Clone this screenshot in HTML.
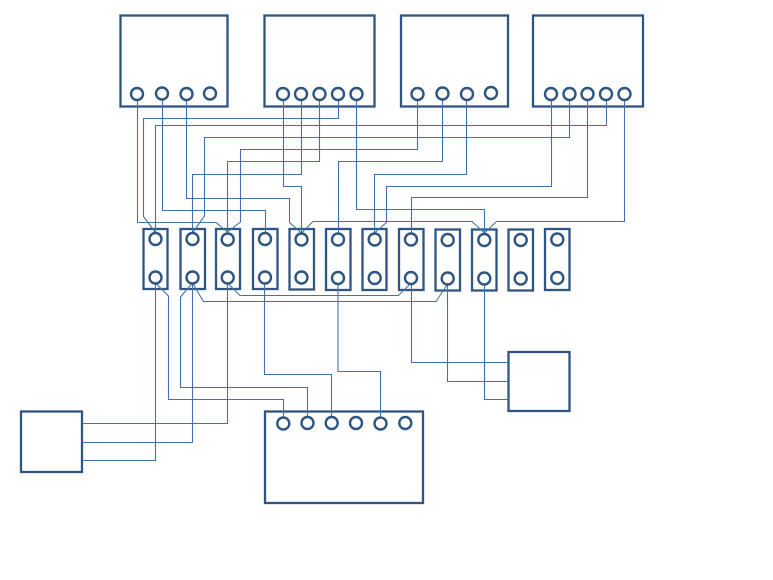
<!DOCTYPE html>
<html>
<head>
<meta charset="utf-8">
<style>
html,body{margin:0;padding:0;background:#fff;width:773px;height:580px;overflow:hidden}
svg{display:block}
.b{fill:#fff;stroke:#2f5583;stroke-width:2.3}
.c{fill:#fff;stroke:#2f5583;stroke-width:2.4}
.w{fill:none;stroke:#4472a8;stroke-width:1.1}
</style>
</head>
<body>
<svg width="773" height="580" viewBox="0 0 773 580" xmlns="http://www.w3.org/2000/svg">
<g>
<rect class="b" x="120.5" y="15.5" width="107" height="91"/>
<rect class="b" x="264.5" y="15.5" width="110" height="91"/>
<rect class="b" x="401" y="15.5" width="107" height="91"/>
<rect class="b" x="533" y="15.5" width="110" height="91"/>
<rect class="b" x="143.5" y="229" width="24" height="60"/>
<rect class="b" x="180.5" y="229" width="24.5" height="60"/>
<rect class="b" x="216" y="229" width="24" height="60"/>
<rect class="b" x="253" y="229" width="24.5" height="60"/>
<rect class="b" x="289.5" y="229" width="24.5" height="60.5"/>
<rect class="b" x="326" y="229" width="24.5" height="61"/>
<rect class="b" x="362.5" y="229" width="24" height="61"/>
<rect class="b" x="399" y="229" width="24.5" height="61"/>
<rect class="b" x="435.5" y="229.5" width="24.5" height="61"/>
<rect class="b" x="472" y="229.5" width="24.5" height="61"/>
<rect class="b" x="508.5" y="229.5" width="24.5" height="61"/>
<rect class="b" x="545" y="229" width="24.5" height="61"/>
<rect class="b" x="21" y="411.5" width="61" height="60.5"/>
<rect class="b" x="265" y="411.5" width="158" height="91.5"/>
<rect class="b" x="508.5" y="352" width="61" height="59"/>
</g>
<g>
<path class="w" d="M137.5 94V222.5H216L227.5 232"/>
<path class="w" d="M162.5 94V210.5H265.5V239"/>
<path class="w" d="M186.5 94V198.5H289.5V222.5L301.5 233"/>
<path class="w" d="M283.5 94V186.5H301.5V239"/>
<path class="w" d="M301.5 94V174.5H192.5V239"/>
<path class="w" d="M319.5 94V161.5H227.5V239"/>
<path class="w" d="M338.5 94V118.5H143.5V216.5L155 232"/>
<path class="w" d="M356.5 94V209.5H484.5V239"/>
<path class="w" d="M417.5 94V149.5H240.5V222L227.5 232"/>
<path class="w" d="M442.5 94V161.5H338.5V239"/>
<path class="w" d="M466.5 94V174.5H374.5V239"/>
<path class="w" d="M551.5 94V186.5H386.5V222.5L374.5 233"/>
<path class="w" d="M569.5 94V137.5H204.5V216L192.5 233"/>
<path class="w" d="M587.5 94V197.5H411.5V239"/>
<path class="w" d="M606.5 94V125.5H155.500V239"/>
<path class="w" d="M624.5 94V221.5H496.5L484.5 233"/>
<path class="w" d="M301.5 233L313 221.5H472L484.5 233"/>
<path class="w" d="M155.5 277V460.5H82"/>
<path class="w" d="M155.5 283L168.5 296V399.5H283.5V423"/>
<path class="w" d="M192.5 283L180.5 297V387.5H307.5V423"/>
<path class="w" d="M192.5 277V442.5H82"/>
<path class="w" d="M192.5 283L203.5 301.5H436L447.5 284"/>
<path class="w" d="M227.5 277V423.5H82"/>
<path class="w" d="M227.5 283L240 295.5H398.5L411 283"/>
<path class="w" d="M264.5 277V374.5H331.5V423"/>
<path class="w" d="M338 278V371.5H380.5V423"/>
<path class="w" d="M411.5 278V362.5H508.5"/>
<path class="w" d="M447.5 278V381.5H508.5"/>
<path class="w" d="M484.5 278V399.5H508.5"/>
</g>
<g>
<circle class="c" cx="137" cy="94" r="6"/>
<circle class="c" cx="162" cy="93.5" r="6"/>
<circle class="c" cx="186.5" cy="94" r="6"/>
<circle class="c" cx="210" cy="93.5" r="6"/>
<circle class="c" cx="283" cy="94" r="6"/>
<circle class="c" cx="301" cy="94" r="6"/>
<circle class="c" cx="319.5" cy="94" r="6"/>
<circle class="c" cx="338" cy="94" r="6"/>
<circle class="c" cx="356.5" cy="94" r="6"/>
<circle class="c" cx="417.5" cy="94" r="6"/>
<circle class="c" cx="442.5" cy="93.5" r="6"/>
<circle class="c" cx="467" cy="94" r="6"/>
<circle class="c" cx="491" cy="93" r="6"/>
<circle class="c" cx="551" cy="94" r="6"/>
<circle class="c" cx="569.5" cy="94" r="6"/>
<circle class="c" cx="587.5" cy="94" r="6"/>
<circle class="c" cx="606" cy="94" r="6"/>
<circle class="c" cx="624.5" cy="94" r="6"/>
<circle class="c" cx="155.5" cy="239" r="6"/>
<circle class="c" cx="155.5" cy="277.5" r="6"/>
<circle class="c" cx="192.5" cy="239" r="6"/>
<circle class="c" cx="192.5" cy="277.5" r="6"/>
<circle class="c" cx="227.7" cy="239.5" r="6"/>
<circle class="c" cx="227.7" cy="277.5" r="6"/>
<circle class="c" cx="265" cy="239" r="6"/>
<circle class="c" cx="265" cy="277.5" r="6"/>
<circle class="c" cx="301.5" cy="239.5" r="6"/>
<circle class="c" cx="301.5" cy="277.5" r="6"/>
<circle class="c" cx="338" cy="239.5" r="6"/>
<circle class="c" cx="338" cy="278" r="6"/>
<circle class="c" cx="374.7" cy="239.5" r="6"/>
<circle class="c" cx="374.7" cy="278" r="6"/>
<circle class="c" cx="411" cy="239.5" r="6"/>
<circle class="c" cx="411" cy="278" r="6"/>
<circle class="c" cx="447.7" cy="240" r="6"/>
<circle class="c" cx="447.7" cy="278.5" r="6"/>
<circle class="c" cx="484.3" cy="240" r="6"/>
<circle class="c" cx="484.3" cy="278.5" r="6"/>
<circle class="c" cx="520.7" cy="240" r="6"/>
<circle class="c" cx="520.7" cy="278.5" r="6"/>
<circle class="c" cx="557.3" cy="239.5" r="6"/>
<circle class="c" cx="557.3" cy="278" r="6"/>
<circle class="c" cx="283.3" cy="423.5" r="6"/>
<circle class="c" cx="307.5" cy="423" r="6"/>
<circle class="c" cx="331.7" cy="423" r="6"/>
<circle class="c" cx="356" cy="423" r="6"/>
<circle class="c" cx="380.5" cy="423.5" r="6"/>
<circle class="c" cx="405.3" cy="423" r="6"/>
</g>
</svg>
</body>
</html>
